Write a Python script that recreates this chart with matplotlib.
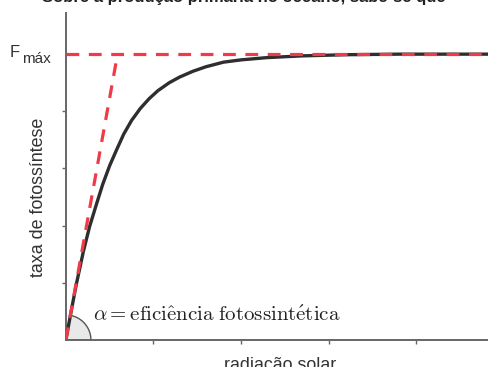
import numpy as np
import matplotlib
matplotlib.use('Agg')
import matplotlib.pyplot as plt
from matplotlib.patches import Polygon

plt.rcParams['font.family'] = ['Liberation Sans', 'DejaVu Sans']
plt.rcParams['mathtext.fontset'] = 'cm'

# curve (x in tick units, y in tick units, Fmax = 5)
radiacao = [0, 0.06, 0.12, 0.2, 0.27, 0.35, 0.42, 0.5, 0.58, 0.66, 0.75, 0.85, 0.95,
            1.05, 1.18, 1.3, 1.45, 1.6, 1.8, 2.0, 2.3, 2.7, 3.2, 3.8, 4.5, 5.0]
taxa = [0, 0.5, 0.98, 1.55, 1.98, 2.38, 2.72, 3.05, 3.33, 3.6, 3.84, 4.05, 4.22,
        4.36, 4.5, 4.6, 4.7, 4.78, 4.86, 4.9, 4.94, 4.97, 4.99, 5.0, 5.0, 5.0]
f_max = 5.0
x_tangente = 0.59   # where the initial slope line reaches Fmax
x_ticks = [1, 2, 3, 4]
y_ticks = [1, 2, 3, 4]

fig = plt.figure(figsize=(4.88, 3.67), dpi=100)
ax = fig.add_axes([0.135, 0.0736, 0.865, 0.891])
ax.set_xlim(0, 4.82)
ax.set_ylim(0, 5.72)

red = '#f03a48'
ax.plot(radiacao, taxa, color='#2e2e2e', lw=2.4, zorder=3, solid_capstyle='round')
ax.plot([0, x_tangente], [0, f_max], color=red, lw=2.3, dashes=(4, 3), zorder=4)
ax.axhline(f_max, color=red, lw=2.3, dashes=(4, 3), zorder=4, clip_on=False)

# angle marker at origin (radius in pixels)
theta = np.arctan2(f_max * 57.2, x_tangente * 87.5)
ang = np.linspace(0, theta, 30)
r = 25
pts = [(0, 0)] + [(r / 87.5 * np.cos(a), r / 57.2 * np.sin(a)) for a in ang]
ax.add_patch(Polygon(pts, closed=True, facecolor='#e9e9e9', edgecolor='#555555', lw=1.0, zorder=2))

ax.text(0.31, 0.33, r'$\alpha = \mathrm{efici\^encia\ fotossint\'etica}$',
        fontsize=15, color='#222222', va='baseline')

for s in ['top', 'right']:
    ax.spines[s].set_visible(False)
for s in ['left', 'bottom']:
    ax.spines[s].set_color('#666666')
    ax.spines[s].set_linewidth(1.4)

ax.set_xticks(x_ticks)
ax.set_yticks(y_ticks)
ax.set_xticklabels([])
ax.set_yticklabels([])
ax.tick_params(length=3, width=1, color='#666666', direction='out')

ax.set_ylabel('taxa de fotossíntese', fontsize=12.9, color='#333333', va='center')
ax.yaxis.set_label_coords(-0.066, 0.437)
ax.set_xlabel('radiação solar', fontsize=12.9, color='#333333', va='top')
ax.xaxis.set_label_coords(0.507, -0.053)

fig.text(10 / 488, 1 - 57 / 367, 'F', fontsize=12, color='#333333', va='baseline')
fig.text(22 / 488, 1 - 63 / 367, 'máx', fontsize=11, color='#333333', va='baseline')

# title line cut off at top of the image
fig.text(0.5, 1 - 2 / 367, 'Sobre a produção primária no oceano, sabe-se que',
         fontsize=12, fontweight='bold', color='#222222', ha='center', va='baseline')

fig.savefig('out.png', dpi=100)
